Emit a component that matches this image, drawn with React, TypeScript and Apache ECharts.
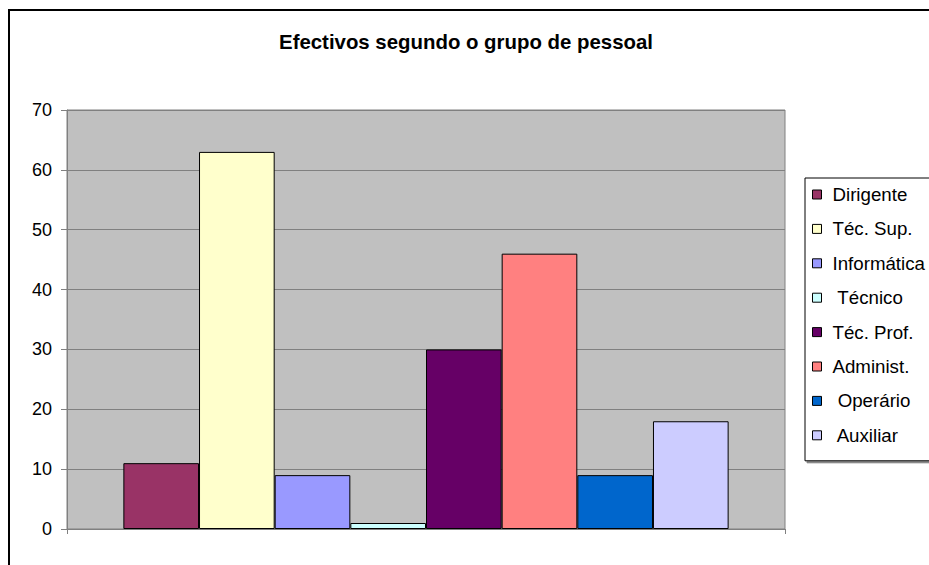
import React, { useEffect, useRef } from "react";
import * as echarts from "echarts";

const titleText = "Efectivos segundo o grupo de pessoal";
const categories = [""];
const seriesNames = ["Dirigente", "Téc. Sup.", "Informática", " Técnico", "Téc. Prof.", "Administ.", " Operário", " Auxiliar"];
const seriesValues = [11, 63, 9, 1, 30, 46, 9, 18];
const seriesColors = ["#993366", "#FFFFCC", "#9999FF", "#CCFFFF", "#660066", "#FF8080", "#0066CC", "#CCCCFF"];
const yTicks = { min: 0, max: 70, interval: 10 };

export default function App() {
  const ref = useRef<HTMLDivElement>(null);
  useEffect(() => {
    document.body.style.margin = "0";
    const chart = echarts.init(ref.current!, null, { renderer: "svg" });
    const font = "Liberation Sans, Arial, sans-serif";
    chart.setOption({
      animation: false,
      backgroundColor: "#ffffff",
      textStyle: { fontFamily: font },
      graphic: [
        {
          type: "text",
          x: 466,
          y: 42,
          style: {
            text: titleText,
            textAlign: "center",
            textVerticalAlign: "middle",
            fontSize: 20.4,
            fontWeight: "bold",
            fill: "#000",
            fontFamily: font,
          },
          silent: true,
        },
        {
          type: "rect",
          shape: { x: 9, y: 10, width: 1000, height: 1000 },
          style: { fill: "none", stroke: "#000", lineWidth: 2 },
          silent: true,
          z: 100,
        },
      ],
      grid: {
        left: 67,
        top: 110,
        width: 718,
        height: 419,
        show: true,
        backgroundColor: "#C0C0C0",
        borderColor: "#808080",
        borderWidth: 1,
      },
      legend: {
        orient: "vertical",
        left: 805,
        top: 178,
        data: seriesNames,
        icon: "rect",
        itemWidth: 9,
        itemHeight: 9,
        itemGap: 15.4,
        padding: [7, 30, 16, 7],
        backgroundColor: "#ffffff",
        borderColor: "#000",
        borderWidth: 1,
        shadowColor: "#808080",
        shadowOffsetX: 2,
        shadowOffsetY: 2,
        shadowBlur: 0,
        itemStyle: { borderColor: "#000", borderWidth: 1 },
        textStyle: { fontSize: 18.7, color: "#000", fontFamily: font, lineHeight: 18, padding: [0, 0, 0, 6] },
      },
      xAxis: {
        type: "category",
        data: categories,
        axisLine: { show: true, lineStyle: { color: "#808080", width: 1 } },
        axisTick: { show: true, length: 5, lineStyle: { color: "#808080" } },
        axisLabel: { show: false },
        splitLine: { show: false },
      },
      yAxis: {
        type: "value",
        min: yTicks.min,
        max: yTicks.max,
        interval: yTicks.interval,
        axisLine: { show: true, lineStyle: { color: "#808080", width: 1 } },
        axisTick: { show: true, length: 6, lineStyle: { color: "#808080" } },
        axisLabel: { fontSize: 18, color: "#000", margin: 15, fontFamily: font },
        splitLine: { show: true, lineStyle: { color: "#808080", width: 1 } },
      },
      series: seriesNames.map((name, i) => ({
        type: "bar",
        name,
        data: [seriesValues[i]],
        barGap: "0%",
        barCategoryGap: "15.7%",
        itemStyle: { color: seriesColors[i], borderColor: "#000", borderWidth: 1 },
      })),
    });
    return () => chart.dispose();
  }, []);
  return <div ref={ref} style={{ width: 929, height: 565 }} />;
}
